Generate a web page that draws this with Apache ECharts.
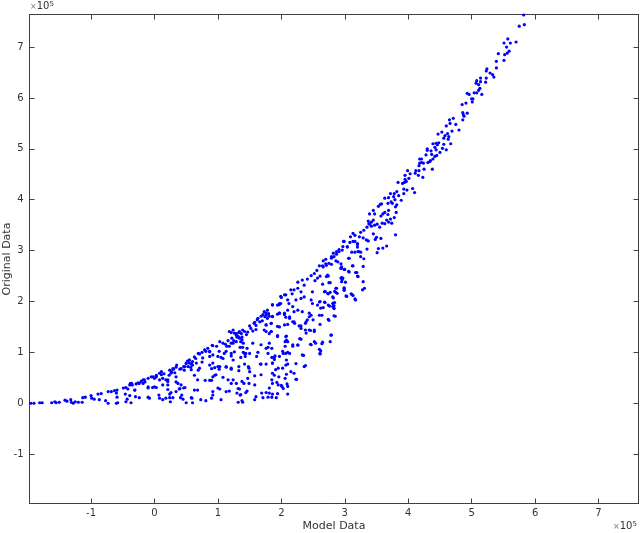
<!DOCTYPE html>
<html><head><meta charset="utf-8">
<style>html,body{margin:0;padding:0;background:#fff}#c{width:640px;height:533px}</style>
<script src="https://cdn.jsdelivr.net/npm/echarts@6/dist/echarts.min.js"></script>
</head><body><div id="c"></div>
<script>
const xTicks=[-1,0,1,2,3,4,5,6,7];
const yTicks=[-1,0,1,2,3,4,5,6,7];
const pointsTail=[[-1.95,0],[-1.9,0],[-1.81,.01],[-1.77,.01],[-1.62,.01],[-1.57,.03],[-1.55,.01],[-1.5,.02],[-1.41,.06],[-1.38,.04],[-1.32,.07],[-1.31,.02],[-1.28,0],[-1.25,.03],[-1.2,.02],[-1.14,.02],[-1.13,.11],[-1.09,.12],[-1.0,.15],[-.99,.1],[-.95,.08],[-.89,.18],[-.84,.19],[-.87,.07],[-.77,.05],[-.73,0],[-.73,.23],[-.68,.23],[-.63,.25],[-.59,.26],[-.6,.2],[-.59,.12],[-.6,0],[-.58,.01],[-.49,.3],[-.45,.31],[-.42,.28],[-.46,.18],[-.39,.15],[-.43,.08],[-.45,.03],[-.37,.01],[-.38,.39],[-.35,.36],[-.31,.26],[-.29,.38],[-.24,.39],[-.3,.13],[-.24,.11],[-.21,.43],[-.16,.46],[-.18,.39],[-.1,.49],[-.1,.12],[-.08,.1],[-.05,.52],[0,.49],[.03,.52],[.08,.59],[.11,.56],[.13,.49]];
const pointsLower=[[-.1,.3],[-.03,.31],[.03,.31],[.13,.36],[.08,.46],[.07,.16],[.08,.1],[.13,.07],[.18,.46],[.21,.43],[.26,.59],[.3,.67],[.34,.71],[.4,.67],[.24,.65],[.21,.27],[.24,.18],[.26,.21],[.18,.1],[.24,.11],[.29,.11],[.25,.03],[.34,.52],[.37,.39],[.42,.36],[.46,.3],[.39,.28],[.43,.16],[.41,.11],[.45,.08],[.59,.1],[.63,.26],[.68,.26],[.58,.11],[.5,.01],[.6,.01],[.46,.72],[.5,.79],[.55,.85],[.6,.75],[.58,.66],[.66,.79],[.71,.97],[.76,.89],[.75,.81],[.81,1.02],[.87,1.02],[.92,1.13],[.71,.69],[.68,.46],[.8,.45],[.87,.45],[.92,.52],[.97,.56],[.87,.75],[.92,.79],[1.05,.9],[1.02,1.02],[1.14,1.12],[1.13,1.02],[1.18,1.12],[1.24,1.18],[1.29,1.21],[1.36,1.21],[1.26,1.38],[1.29,1.34],[1.34,1.28],[1.42,1.41],[1.0,.72],[1.02,.67],[1.13,.71],[1.21,.67],[1.33,.64],[1.08,.51],[1.16,.46],[1.24,.46],[1.21,.39],[1.38,.43],[1.49,.69],[1.5,.62],[1.58,.54],[1.68,.56],[1.47,.49],[1.58,.36],[1.68,.77],[1.86,.79],[1.91,.66],[2.02,.69],[2.2,.59],[2.23,.47],[2.08,.57],[1.96,.52],[1.86,.59],[2.06,.49],[2.01,.33],[1.86,.39],[1.81,.3],[1.81,.2],[1.86,.18],[1.92,.11],[2.1,.18],[1.71,.11],[1.6,.13],[1.58,.07],[1.38,.05],[1.35,.16],[1.44,.21],[1.34,.28],[1.0,.3],[.92,.23],[1.03,.28],[.9,.1],[1.05,.07],[1.13,.23],[1.18,.24],[.73,.07],[.81,.05],[.92,.16]];
const pointsBand=[[1.21,1.39],[1.29,1.37],[1.32,1.31],[1.16,1.23],[1.03,1.21],[1.08,1.18],[.91,1.14],[.84,1.08],[.87,1.01],[.79,1.05],[.69,.98],[.63,.91],[.55,.85],[.58,.78],[.5,.78],[.48,.72],[.53,.72],[.42,.68],[.29,.68],[.27,.62],[.32,.6],[.11,.62],[.03,.55],[-.02,.52],[-.18,.46],[-.15,.42],[-.26,.4],[-.36,.39],[-.39,.36],[-.31,.26],[-.1,.32],[0,.32],[.21,.46],[.34,.42],[.21,.36],[.4,.29],[.34,.23],[.48,.31],[.63,.55],[.69,.65],[.92,.95],[.87,.92],[1,.92],[1.1,.98],[1.08,.88],[1.21,.98],[1.26,1.01],[.9,.45],[.95,.55],[1.03,.72],[.9,.68],[.95,.7],[1.13,.72],[1.21,.69],[1.24,.85],[.23,.55],[.15,.58],[.35,.75],[.47,.65],[.65,.88],[.75,1.0],[.98,1.12],[1.12,1.16],[1.25,1.23],[1.38,1.3],[1.45,1.35],[1.52,1.47],[1.6,1.53],[1.66,1.6],[1.7,1.62],[1.74,1.7],[1.8,1.76],[1.55,1.42],[1.47,1.4],[1.3,1.3],[1.22,1.28],[1.33,1.39],[1.37,1.37],[1.38,1.25],[1.4,1.18],[1.35,1.1],[.55,.79],[.6,.82],[.52,.83],[.57,.71]];
const pointsMiddle=[[1.63,1.0],[1.44,.98],[1.5,.98],[1.55,1.18],[1.6,1.45],[1.76,1.54],[1.58,1.59],[1.63,1.67],[1.71,1.74],[1.76,1.77],[1.81,1.71],[1.86,1.71],[1.86,1.94],[1.97,1.94],[1.99,2.1],[2.07,2.13],[1.97,1.77],[2.05,1.74],[2.13,1.7],[1.94,1.51],[1.84,1.57],[1.76,1.41],[1.84,1.41],[1.81,1.18],[1.76,1.08],[1.68,1.15],[1.79,.98],[1.94,1.33],[2.07,1.31],[2.06,1.21],[2.1,1.21],[2.18,1.15],[2.26,1.15],[2.31,1.26],[2.39,1.38],[2.46,1.43],[2.52,1.41],[2.47,1.15],[2.54,1.18],[2.35,.94],[2.38,.74],[2.07,.98],[2.13,.98],[2.08,.85],[2.07,.75],[2.15,.62],[2.02,1.02],[1.9,.93],[1.86,.79],[2.21,1.57],[2.28,1.52],[2.39,1.6],[2.44,1.7],[2.5,1.64]];
const pointsUpperMid=[[2.98,3.18],[3.13,3.18],[3.2,3.14],[3.04,3.07],[3.2,3.07],[2.96,3.01],[2.91,2.98],[2.87,2.93],[2.83,2.88],[3.06,2.85],[3.22,2.98],[2.89,2.78],[2.75,2.75],[2.7,2.74],[2.65,2.7],[2.6,2.7],[2.94,2.65],[2.99,2.63],[3.12,2.7],[3.06,2.59],[3.17,2.57],[3.2,2.5],[2.56,2.61],[2.52,2.55],[2.47,2.51],[2.73,2.52],[2.57,2.46],[2.53,2.41],[2.33,2.42],[2.41,2.44],[2.26,2.38],[2.36,2.32],[2.75,2.37],[2.94,2.46],[2.95,2.39],[2.26,2.26],[2.2,2.23],[2.31,2.19],[2.15,2.23],[2.05,2.13],[2,2.08],[2.17,2.15],[2.1,2.03],[2.23,2.03],[2.31,2.06],[2.36,2.09],[2.49,2.19],[2.68,2.19],[2.73,2.16],[2.86,2.26],[2.86,2.18],[2.99,2.23],[2.99,2.27],[2.81,2.09],[3.02,2.11],[3.1,2.15],[3.16,2.05],[2.6,1.99],[2.68,1.99],[2.47,2.03],[2.49,1.96],[2.57,1.93],[2.81,1.96],[2.81,1.9],[2.83,1.86],[2.74,1.93],[1.97,1.96],[1.94,1.93],[1.99,1.96],[1.86,1.93],[2.12,1.96],[2.18,1.9],[2.1,1.83],[2.2,1.8],[2.26,1.83],[2.33,1.8],[1.97,1.77],[2.05,1.77],[1.94,1.75],[1.78,1.83],[1.73,1.8],[1.76,1.73],[1.68,1.71],[1.62,1.64],[1.86,1.7],[1.78,1.67],[2.07,1.69],[2.13,1.67],[2.44,1.77],[2.47,1.73],[2.83,1.72],[2.6,1.73],[2.74,1.65],[2.41,1.64],[2.38,1.57],[2.2,1.6],[2.18,1.6],[1.57,1.57],[1.5,1.52],[1.76,1.54],[1.84,1.57],[1.97,1.5],[2.1,1.55],[2.05,1.54],[2.31,1.52],[2.31,1.47],[2.38,1.44],[2.44,1.44],[2.52,1.44],[1.73,1.44],[1.84,1.41],[1.81,1.37],[1.39,1.44],[1.34,1.41],[1.24,1.44],[1.18,1.41],[1.29,1.34],[1.31,1.31],[1.94,1.31],[2.08,1.32],[2.08,1.24],[2.26,1.14],[2.18,1.12],[2.06,1.12],[2.29,1.27],[2.46,1.16],[2.52,1.21],[2.77,1.21],[2.64,1.17],[2.79,1.34],[1.79,1.1],[1.85,1.08],[1.39,1.1],[1.46,1.08],[1.21,1.18],[1.4,1.0],[1.42,.98],[2.03,.98],[2.1,1.0],[2.33,.95],[2.6,1.06],[2.61,.98],[1.21,.93],[1.36,.9],[1.43,.92],[1.89,.9],[1.89,.86],[1.85,.9],[1.61,.92],[1.97,.92],[2.23,.78],[1.67,.77],[1.42,.77],[1.76,.77],[2.1,.77],[2.36,.72],[1.33,.72],[1.48,.72],[1.95,.69],[2.24,.47],[1.89,.55],[1.93,.41],[1.95,.36],[1.85,.46],[2.1,.33],[2.0,.35],[2.03,.29],[2.09,.38],[1.49,.39],[1.41,.39],[1.32,.29],[1.46,.24],[1.36,.17],[1.3,.2],[1.29,.39],[1.69,.2],[1.79,.12],[1.85,.12],[1.76,.21],[1.39,.02],[1.32,.02],[1.94,.19]];
const pointsRightLow=[[2.95,2.68],[3.13,2.7],[3.29,2.69],[2.94,2.66],[3,2.63],[3.07,2.58],[3.19,2.57],[3.21,2.49],[2.95,2.47],[2.97,2.46],[2.96,2.43],[3.01,2.38],[3.29,2.39],[2.87,2.26],[2.99,2.26],[2.99,2.22],[3.31,2.26],[3.28,2.23],[2.74,2.15],[2.77,2.18],[2.84,2.2],[2.88,2.16],[3.11,2.14],[3.13,2.12],[3.03,2.1],[3.17,2.03],[2.82,2.07],[2.61,2],[2.69,1.98],[2.82,1.97],[2.84,1.98],[2.83,1.92],[2.76,1.91],[2.83,1.87],[2.62,1.87],[2.66,1.88],[2.64,1.73],[2.85,1.71],[2.75,1.63],[2.78,1.34],[2.65,1.2],[2.62,1.03],[2.61,.97],[2.61,1.55],[2.71,2.49],[2.74,2.5],[2.61,2.5],[2.66,2.68],[2.71,2.71],[2.79,2.73],[2.65,2.34],[2.77,2.37],[2.69,2.2]];
const pointsUpper=[[3.3,3.4],[3.25,3.36],[3.13,3.34],[3.16,3.3],[3.09,3.27],[3.23,3.27],[3.29,3.25],[3.34,3.21],[3.37,3.19],[3.45,3.33],[3.5,3.26],[3.57,3.24],[3.48,3.22],[3.8,3.31],[3.66,3.09],[3.6,3.05],[3.53,3.04],[3.51,2.96],[3.35,3.03],[3.2,3.12],[3.16,3.18],[3.08,3.16],[2.99,3.18],[2.97,3.08],[2.91,3.02],[2.87,2.98],[2.82,2.95],[2.79,2.88],[3.04,3.08],[3.11,2.97],[3.16,2.97],[3.21,2.98],[3.25,2.97],[3.07,2.85],[3.25,2.88],[3.3,2.84],[2.94,2.74],[2.86,2.8],[2.79,2.85],[2.7,2.83],[2.66,2.8],[3.35,3.46],[3.39,3.52],[3.37,3.58],[3.42,3.56],[3.45,3.6],[3.38,3.53],[3.42,3.48],[3.47,3.5],[3.55,3.46],[3.59,3.54],[3.51,3.52],[3.63,3.53],[3.69,3.56],[3.74,3.54],[3.66,3.6],[3.72,3.62],[3.78,3.65],[3.6,3.72],[3.63,3.75],[3.69,3.79],[3.81,3.75],[3.68,3.71],[3.57,3.68],[3.45,3.79],[3.39,3.72],[3.47,3.72],[3.53,3.87],[3.56,3.91],[3.58,3.92],[3.82,3.9],[3.8,3.86],[3.73,3.96],[3.68,3.93],[3.75,3.93],[3.89,3.99],[3.79,4.0],[3.63,4.03],[3.69,4.04],[3.77,4.06],[3.72,4.12],[3.93,4.12],[3.82,4.16],[3.78,4.12],[3.85,4.08],[4.1,4.14],[3.93,4.21],[3.98,4.19],[4.07,4.22],[3.84,4.34],[3.91,4.32],[3.94,4.34],[3.97,4.36],[3.95,4.4],[4.01,4.42],[3.95,4.48],[4.03,4.51],[4.11,4.52],[4.16,4.48],[4.23,4.44],[3.99,4.57],[4.12,4.57],[4.17,4.57],[4.25,4.6],[4.38,4.6],[4.17,4.67],[4.18,4.72],[4.21,4.73],[4.24,4.72],[4.31,4.73],[4.34,4.75],[4.35,4.77],[4.39,4.8],[4.18,4.8],[4.21,4.8],[4.28,4.88],[4.37,4.89],[4.45,4.87],[4.42,4.85],[4.3,4.97],[4.3,5.0],[4.36,4.96],[4.44,4.98],[4.6,4.98],[4.5,4.93],[4.54,5.01],[4.42,5.03],[4.56,5.09],[4.46,5.08],[4.39,5.1],[4.44,5.11],[4.48,5.12],[4.67,5.1],[4.63,5.19],[4.56,5.21],[4.58,5.26],[4.62,5.3],[4.64,5.24],[4.47,5.29],[4.53,5.33],[4.69,5.35],[4.8,5.37],[4.75,5.48],[4.6,5.45],[4.66,5.5],[4.65,5.57],[4.71,5.6],[4.86,5.57],[4.88,5.64],[4.87,5.67],[4.86,5.71],[4.93,5.7],[4.85,5.87],[4.91,5.9],[5.01,5.92],[5,5.98],[5.02,5.98],[4.93,6.09],[4.96,6.07],[5.04,6.1],[5.08,6.1],[5.16,6.07],[5.11,6.15],[5.13,6.19],[5.11,6.26],[5.07,6.29],[5.08,6.34],[5.14,6.32],[5.14,6.39],[5.22,6.31],[5.23,6.39],[5.35,6.41],[5.33,6.46],[5.29,6.49],[5.23,6.53],[5.24,6.57],[5.39,6.59],[5.39,6.72],[5.51,6.74],[5.42,6.87],[5.52,6.85],[5.56,6.88],[5.59,6.92],[5.55,7],[5.51,7.08],[5.61,7.08],[5.7,7.1],[5.57,7.16],[5.75,7.41],[5.83,7.44],[5.82,7.63]];
const allPoints=[...pointsTail,...pointsLower,...pointsBand,...pointsMiddle,...pointsUpperMid,...pointsRightLow,...pointsUpper];
const axisColor='#404040', textColor='#333333', fontName='"DejaVu Sans"';
const line={show:true,onZero:false,lineStyle:{color:axisColor,width:1}};
function xAxis(pos,labels){return{type:'value',position:pos,min:-1.97,max:7.63,splitLine:{show:false},axisLine:line,
  axisTick:{show:true,inside:true,length:5,customValues:xTicks,lineStyle:{color:axisColor}},
  axisLabel:{show:labels,customValues:xTicks,margin:5,color:textColor,fontSize:10,fontFamily:fontName},
  name:labels?'Model Data':'',nameLocation:'middle',nameGap:17,nameMoveOverlap:false,nameTextStyle:{color:textColor,fontSize:11,fontFamily:fontName}}}
function yAxis(pos,labels){return{type:'value',position:pos,min:-1.97,max:7.64,splitLine:{show:false},axisLine:line,
  axisTick:{show:true,inside:true,length:5,customValues:yTicks,lineStyle:{color:axisColor}},
  axisLabel:{show:labels,customValues:yTicks,margin:6,color:textColor,fontSize:10,fontFamily:fontName},
  name:labels?'Original Data':'',nameLocation:'middle',nameGap:17,nameMoveOverlap:false,nameTextStyle:{color:textColor,fontSize:11,fontFamily:fontName}}}
const exp=(x,y)=>({type:'text',left:x,top:y,silent:true,style:{rich:{a:{fontSize:8,fill:'#777',fontFamily:fontName},b:{fontSize:10,fill:textColor,fontFamily:fontName},c:{fontSize:7,fill:textColor,fontFamily:fontName,verticalAlign:'top',padding:[0,0,4,0]}},text:'{a|×}{b|10}{c|5}'}});
const chart=echarts.init(document.getElementById('c'),null,{renderer:'canvas'});
chart.setOption({animation:false,backgroundColor:'#fff',
  grid:{left:29.5,right:1.5,top:14.5,bottom:29.5,outerBoundsMode:'none'},
  xAxis:[xAxis('bottom',true),xAxis('top',false)],
  yAxis:[yAxis('left',true),yAxis('right',false)],
  graphic:[exp(30,1),exp(613,521)],
  series:[{type:'scatter',data:allPoints,symbol:'circle',symbolSize:3.2,clip:false,itemStyle:{color:'#0000ff',opacity:1}}]
});
</script></body></html>
